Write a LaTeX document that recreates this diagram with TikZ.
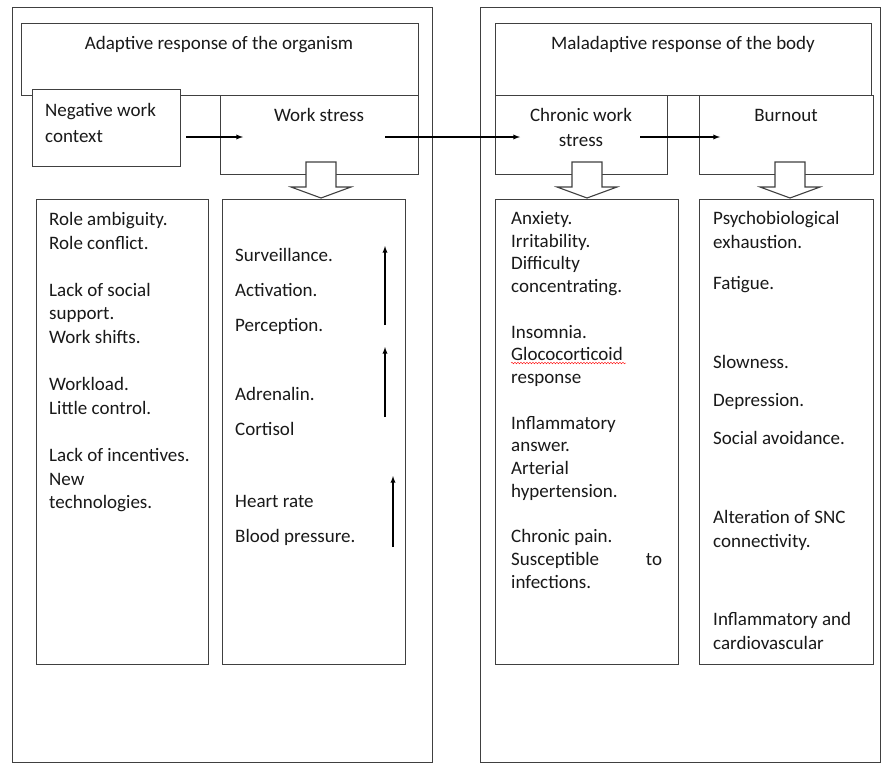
\documentclass[tikz,border=0pt]{standalone}
\usepackage{fontspec}
\setmainfont{Carlito}
\usetikzlibrary{decorations.pathmorphing}

\tikzset{
    box/.style={draw=black!75, line width=1.1pt, fill=white, inner sep=0pt, anchor=north west},
    txt/.style={inner sep=0pt, text=black!90, font=\fontsize{19}{24}\selectfont},
    lst/.style={txt, anchor=north west, align=left},
    conn/.style={line width=1.3pt, -latex},
    blockarrow/.style={draw=black!75, line width=1.1pt, fill=white, line join=miter},
}

\begin{document}
\begin{tikzpicture}[x=1pt,y=-1pt]
        \useasboundingbox (0,0) rectangle (882,763);

        % up arrow below the first box, drawn first so the box hides its tip
        \draw[blockarrow] (102,197) -- (102,172) -- (86,172) -- (118,163) -- (150,172) -- (135,172) -- (135,197) -- cycle;

        \node[box, minimum width=420, minimum height=755] (adaptive) at (12,7) {};% left frame
        \node[box, minimum width=400, minimum height=755] (maladaptive) at (480,7) {};% right frame

        \node[box, minimum width=397, minimum height=72] (adaptHead) at (21,23) {};
        \node[box, minimum width=376, minimum height=72] (malHead) at (495,23) {};

        \node[box, minimum width=198, minimum height=79] (stress) at (220,95) {};
        \node[box, minimum width=148, minimum height=77] (context) at (32,89) {};
        \node[box, minimum width=172, minimum height=79] (chronic) at (495,95) {};
        \node[box, minimum width=174, minimum height=79] (burnout) at (699,95) {};

        \node[box, minimum width=172, minimum height=465] (contextList) at (36,199) {};
        \node[box, minimum width=183, minimum height=465] (stressList) at (222,199) {};
        \node[box, minimum width=183, minimum height=465] (chronicList) at (495,199) {};
        \node[box, minimum width=174, minimum height=465] (burnoutList) at (699,199) {};

        % down arrows
        \draw[blockarrow] (306,162) -- (306,187) -- (291,187) -- (321,198) -- (351,187) -- (336,187) -- (336,162) -- cycle;
        \draw[blockarrow] (572,162) -- (572,187) -- (557,187) -- (587,198) -- (617,187) -- (602,187) -- (602,162) -- cycle;
        \draw[blockarrow] (775,162) -- (775,187) -- (760,187) -- (790,198) -- (820,187) -- (805,187) -- (805,162) -- cycle;

        % titles
        \node[txt, anchor=base] (adaptTitle) at (219,49) {Adaptive response of the organism};
        \node[txt, anchor=base] (malTitle) at (683,49) {Maladaptive response of the body};
        \node[lst, font=\fontsize{19}{26}\selectfont] (contextTitle) at (45,103) {Negative work\\context};
        \node[txt, anchor=base] (stressTitle) at (319,121) {Work stress};
        \node[txt, anchor=north, align=center, font=\fontsize{19}{25}\selectfont] (chronicTitle) at (581,108) {Chronic work\\stress};
        \node[txt, anchor=base] (burnoutTitle) at (786,121) {Burnout};

        % horizontal arrows
        \coordinate (stressIn) at (243,137);
        \coordinate (chronicIn) at (520,137);
        \coordinate (burnoutIn) at (720,137);
        \draw[conn] (context.east |- stressIn) ++(5,0) -- (stressIn);
        \draw[conn] (385,137) -- (chronicIn);
        \draw[conn] (640,137) -- (burnoutIn);

        % lists
        \node[lst, font=\fontsize{19}{23.6}\selectfont] (contextItems) at (49,212) {Role ambiguity.\\Role conflict.\\[23.6pt]
            Lack of social\\support.\\Work shifts.\\[23.6pt]
            Workload.\\Little control.\\[23.6pt]
            Lack of incentives.\\New\\technologies.};
        \node[lst, font=\fontsize{19}{35}\selectfont] (stressItems) at (235,248) {Surveillance.\\Activation.\\Perception.\\[34pt]
            Adrenalin.\\Cortisol\\[37pt]
            Heart rate\\Blood pressure.};
        \node[lst, font=\fontsize{19}{22.75}\selectfont] (chronicItems) at (511,211) {Anxiety.\\Irritability.\\Difficulty\\concentrating.\\[22.75pt]
            Insomnia.\\Glococorticoid\\response\\[22.75pt]
            Inflammatory\\answer.\\Arterial\\hypertension.\\[22.75pt]
            Chronic pain.\\\makebox[151pt][l]{Susceptible\hfill to}\\infections.};
        \node[lst, font=\fontsize{19}{24}\selectfont] (burnoutItems) at (713,211) {Psychobiological\\exhaustion.\\[17pt]
            Fatigue.\\[55pt]
            Slowness.\\[14pt]
            Depression.\\[14pt]
            Social avoidance.\\[55pt]
            Alteration of SNC\\connectivity.\\[54pt]
            Inflammatory and\\cardiovascular};

        \draw[red, decorate, decoration={snake, amplitude=0.8pt, segment length=3pt}] (511,363) -- (626,363);% spell check mark

        % small rising arrows in the stress list
        \coordinate (riseA) at (385,325);
        \coordinate (riseB) at (385,417);
        \coordinate (riseC) at (393,547);
        \draw[conn] (riseA) -- ++(0,-79);
        \draw[conn] (riseB) -- ++(0,-70);
        \draw[conn] (riseC) -- ++(0,-71);

    \end{tikzpicture}
\end{document}
